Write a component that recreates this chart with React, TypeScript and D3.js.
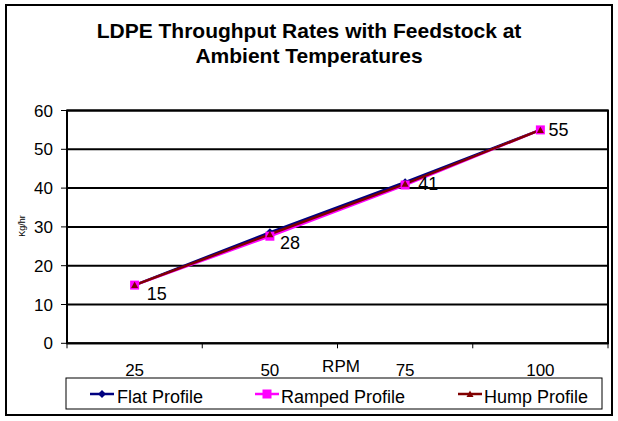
import React from "react";
import * as d3 from "d3";

const categories = ["25", "50", "75", "100"];
const flatProfile = [15, 28.6, 41.5, 55];
const rampedProfile = [15, 27.6, 40.8, 55];
const humpProfile = [15, 28.1, 41.1, 55];
const labelValues = [15, 28, 41, 55];
const yTicks = [0, 10, 20, 30, 40, 50, 60];
const seriesNames = ["Flat Profile", "Ramped Profile", "Hump Profile"];
const seriesColors = ["#000080", "#FF00FF", "#800000"];

const W = 618, H = 421;
const M = { left: 67, right: 608, top: 110.5, bottom: 343.3 };
const FONT = "'Liberation Sans', Arial, sans-serif";
const labelOffsets = [
  { dx: 12, dy: 15 },
  { dx: 10, dy: 14 },
  { dx: 13, dy: 6 },
  { dx: 8, dy: 6 },
];

export default function App() {
  const x = d3.scaleBand().domain(categories).range([M.left, M.right]).padding(0);
  const y = d3.scaleLinear().domain([0, 60]).range([M.bottom, M.top]);
  const cx = (c: string) => (x(c) as number) + x.bandwidth() / 2;
  const line = d3.line<number>().x((_, i) => cx(categories[i])).y((d) => y(d));
  const series = [flatProfile, rampedProfile, humpProfile];
  const tickXs = categories.map((c) => x(c) as number).concat([M.right]);

  const marker = (k: number, px: number, py: number, key: string) => {
    if (k === 0) {
      const s = 4;
      return <path key={key} d={`M${px},${py - s}L${px + s},${py}L${px},${py + s}L${px - s},${py}Z`} fill={seriesColors[0]} />;
    }
    if (k === 1) {
      return <rect key={key} x={px - 4.5} y={py - 4.5} width={9} height={9} fill={seriesColors[1]} />;
    }
    return <path key={key} d={`M${px},${py - 3.5}L${px + 3.5},${py + 3}L${px - 3.5},${py + 3}Z`} fill={seriesColors[2]} />;
  };

  const legendItems = [
    { lx: 90, tx: 117 },
    { lx: 255, tx: 281 },
    { lx: 458, tx: 484 },
  ];

  return (
    <svg width={W} height={H} style={{ position: "absolute", left: 0, top: 0 }} fontFamily={FONT}>
      <rect x={0} y={0} width={W} height={H} fill="#fff" />
      <rect x={6} y={5} width={606} height={410} fill="none" stroke="#000" strokeWidth={2} />
      <text x={309} y={38} textAnchor="middle" fontSize={21} fontWeight="bold">LDPE Throughput Rates with Feedstock at</text>
      <text x={309} y={63} textAnchor="middle" fontSize={21} fontWeight="bold">Ambient Temperatures</text>

      {yTicks.map((t) => (
        <g key={t}>
          <line x1={M.left} x2={M.right} y1={y(t)} y2={y(t)} stroke="#000" strokeWidth={2} />
          <line x1={61} x2={M.left} y1={y(t)} y2={y(t)} stroke="#000" strokeWidth={1} />
          <text x={53} y={y(t) + 6} textAnchor="end" fontSize={17}>{t}</text>
        </g>
      ))}
      <rect x={M.left} y={M.top} width={M.right - M.left} height={M.bottom - M.top} fill="none" stroke="#000" strokeWidth={2} />
      {tickXs.map((tx, i) => (
        <line key={i} x1={tx} x2={tx} y1={M.bottom} y2={M.bottom + 5} stroke="#000" strokeWidth={1} />
      ))}
      {categories.map((c) => (
        <text key={c} x={cx(c)} y={376} textAnchor="middle" fontSize={17}>{c}</text>
      ))}
      <text x={341} y={372} textAnchor="middle" fontSize={17}>RPM</text>
      <text transform={`translate(25,226) rotate(-90)`} textAnchor="middle" fontSize={9}>Kg/hr</text>

      {series.map((s, k) => (
        <path key={k} d={line(s) as string} fill="none" stroke={seriesColors[k]} strokeWidth={2.5} />
      ))}
      {series.map((s, k) => s.map((v, i) => marker(k, cx(categories[i]), y(v), `${k}-${i}`)))}
      {labelValues.map((v, i) => (
        <text key={i} x={cx(categories[i]) + labelOffsets[i].dx} y={y(v) + labelOffsets[i].dy} fontSize={18}>{v}</text>
      ))}

      <rect x={66} y={378} width={536} height={31} fill="#fff" stroke="#000" strokeWidth={1} />
      {legendItems.map((it, k) => (
        <g key={k}>
          <line x1={it.lx} x2={it.lx + 24} y1={394} y2={394} stroke={seriesColors[k]} strokeWidth={2.5} />
          {marker(k, it.lx + 12, 394, `l${k}`)}
          <text x={it.tx} y={403} fontSize={18}>{seriesNames[k]}</text>
        </g>
      ))}
    </svg>
  );
}
